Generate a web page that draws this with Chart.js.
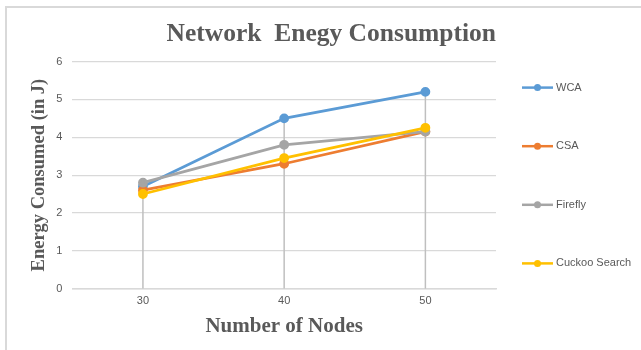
<!DOCTYPE html>
<html>
<head>
<meta charset="utf-8">
<script src="https://cdn.jsdelivr.net/npm/chart.js@4/dist/chart.umd.min.js"></script>
<style>
  html, body { margin: 0; padding: 0; background: #fff; }
  #wrap { position: relative; width: 641px; height: 350px; overflow: hidden; }
  #frame { position: absolute; left: 5px; top: 6px; width: 700px; height: 400px;
           border-top: 2px solid #d9d9d9; border-left: 2px solid #d9d9d9; box-sizing: border-box; }
  #c { position: absolute; left: 0; top: 0; }
</style>
</head>
<body>
<div id="wrap">
  <div id="frame"></div>
  <canvas id="c" width="641" height="350"></canvas>
</div>
<script>
// Number of nodes in the network
const nodes = ['30', '40', '50'];

// Energy consumed (J) per algorithm
const wca     = [2.7, 4.5, 5.2];
const csa     = [2.6, 3.3, 4.15];
const firefly = [2.8, 3.8, 4.15];
const cuckoo  = [2.5, 3.45, 4.25];

const seriesNames = ['WCA', 'CSA', 'Firefly', 'Cuckoo Search'];
const seriesColors = ['#5B9BD5', '#ED7D31', '#A5A5A5', '#FFC000'];
const seriesValues = [wca, csa, firefly, cuckoo];

// Vertical drop lines from the highest point of each category down to zero
const dropLines = {
  id: 'dropLines',
  beforeDatasetsDraw(chart) {
    const { ctx, scales: { x, y } } = chart;
    ctx.save();
    ctx.strokeStyle = '#BFBFBF';
    ctx.lineWidth = 1.5;
    nodes.forEach((_, i) => {
      const top = Math.max(...seriesValues.map(s => s[i]));
      const px = x.getPixelForValue(i);
      ctx.beginPath();
      ctx.moveTo(px, y.getPixelForValue(top));
      ctx.lineTo(px, y.getPixelForValue(0));
      ctx.stroke();
    });
    ctx.restore();
  }
};

// Legend to the right of the plot: one row per series, spread down the side
const sideLegend = {
  id: 'sideLegend',
  afterDraw(chart) {
    const { ctx, chartArea } = chart;
    const step = 58.6;
    const x0 = chartArea.right + 26;
    ctx.save();
    ctx.font = '11px "Liberation Sans"';
    ctx.textBaseline = 'middle';
    chart.data.datasets.forEach((d, i) => {
      const cy = chartArea.top + 26 + step * i;
      ctx.strokeStyle = d.borderColor;
      ctx.lineWidth = 2.5;
      ctx.beginPath(); ctx.moveTo(x0, cy); ctx.lineTo(x0 + 31, cy); ctx.stroke();
      ctx.fillStyle = d.borderColor;
      ctx.beginPath(); ctx.arc(x0 + 15.5, cy, 3.5, 0, Math.PI * 2); ctx.fill();
      ctx.fillStyle = '#595959';
      ctx.fillText(d.label, x0 + 34, cy);
    });
    ctx.restore();
  }
};

const datasets = seriesNames.map((name, k) => ({
  label: name,
  data: seriesValues[k],
  borderColor: seriesColors[k],
  backgroundColor: seriesColors[k],
  borderWidth: 2.8,
  pointRadius: 3.5,
  pointHoverRadius: 3.5,
  pointStyle: 'circle',
  tension: 0,
  order: seriesNames.length - k
}));

new Chart(document.getElementById('c'), {
  type: 'line',
  data: { labels: nodes, datasets },
  plugins: [dropLines, sideLegend],
  options: {
    responsive: false,
    animation: false,
    layout: { padding: { left: 24, right: 145, top: 0, bottom: 11 } },
    plugins: {
      title: {
        display: true,
        align: 'end',
        text: 'Network  Enegy Consumption',
        color: '#595959',
        font: { family: 'Liberation Serif', size: 25.5, weight: 'bold' },
        padding: { top: 19, bottom: 12 }
      },
      legend: { display: false },
      tooltip: { enabled: false }
    },
    scales: {
      x: {
        offset: true,
        grid: { display: false, drawTicks: false },
        border: { display: true, color: '#D9D9D9', width: 1.5 },
        ticks: { color: '#595959', font: { family: 'Liberation Sans', size: 11 }, padding: 6 },
        title: {
          display: true,
          text: 'Number of Nodes',
          color: '#595959',
          font: { family: 'Liberation Serif', size: 21, weight: 'bold' },
          padding: { top: 0, bottom: 0 }
        }
      },
      y: {
        min: 0, max: 6,
        ticks: { stepSize: 1, color: '#595959', font: { family: 'Liberation Sans', size: 11 }, padding: 10 },
        grid: { color: '#D9D9D9', lineWidth: 1.2, drawTicks: false },
        border: { display: false },
        title: {
          display: true,
          text: 'Energy Consumed (in J)',
          color: '#595959',
          font: { family: 'Liberation Serif', size: 18.5, weight: 'bold' },
          padding: { top: 4, bottom: -4 }
        }
      }
    }
  }
});
</script>
</body>
</html>
